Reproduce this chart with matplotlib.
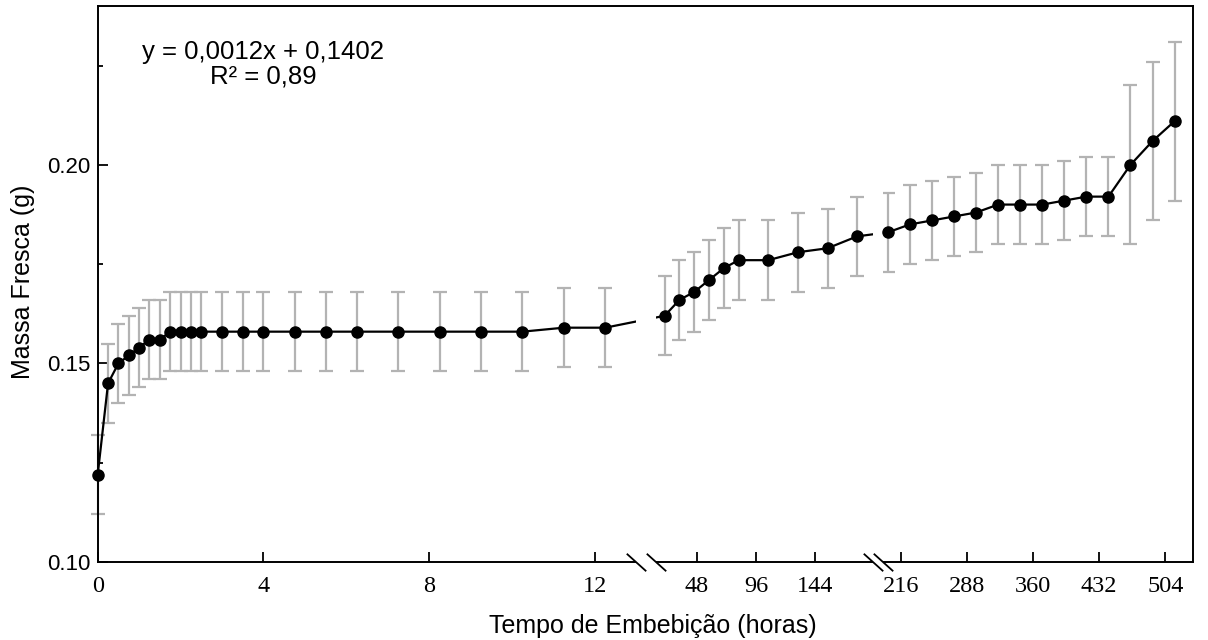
import numpy as np
import matplotlib
matplotlib.use("Agg")
import matplotlib.pyplot as plt
import matplotlib.transforms as mtransforms

# ---------------- data ----------------
hours = [0, 0.25, 0.5, 0.75, 1, 1.25, 1.5, 1.75, 2, 2.25, 2.5, 3, 3.5, 4,
         4.75, 5.5, 6.25, 7.25, 8.25, 9.25, 10.25, 11.25, 12.25,
         22, 34, 46, 58, 70, 82, 106, 130, 154, 178,
         202, 226, 250, 274, 298, 322, 346, 370, 394, 418, 442, 466, 490, 514]
massa = [0.122, 0.145, 0.150, 0.152, 0.154, 0.156, 0.156, 0.158, 0.158, 0.158,
         0.158, 0.158, 0.158, 0.158, 0.158, 0.158, 0.158, 0.158, 0.158, 0.158,
         0.158, 0.159, 0.159,
         0.162, 0.166, 0.168, 0.171, 0.174, 0.176, 0.176, 0.178, 0.179, 0.182,
         0.183, 0.185, 0.186, 0.187, 0.188, 0.190, 0.190, 0.190, 0.191, 0.192,
         0.192, 0.200, 0.206, 0.211]
erro = [0.01] * 44 + [0.02, 0.02, 0.02]

x_ticks = [0, 4, 8, 12, 48, 96, 144, 216, 288, 360, 432, 504]
y_ticks = [0.10, 0.15, 0.20]
y_minor = [0.125, 0.175, 0.225]
breaks = [(13, 15), (191, 197)]
equation = "y = 0,0012x + 0,1402\nR² = 0,89"

# broken-axis scale knots (hours -> axis units)
H_KNOTS = [0, 13, 15, 191, 197, 534]
P_KNOTS = [97.7, 636.4, 656.0, 873.2, 883.2, 1193.0]


def fwd(h):
    return np.interp(h, H_KNOTS, P_KNOTS)


def inv(p):
    return np.interp(p, P_KNOTS, H_KNOTS)


W, H = 1208, 640
fig = plt.figure(figsize=(W / 100, H / 100), dpi=100)
ax = fig.add_axes([97.7 / W, 1 - 562 / H, (1193 - 97.7) / W, (562 - 6) / H])
ax.set_xscale('function', functions=(fwd, inv))
ax.set_xlim(0, 534)
ax.set_ylim(0.10, 0.24)

# error bars
eb = ax.errorbar(hours, massa, yerr=erro, fmt='none', ecolor='#b3b3b3',
                 elinewidth=1.6, capsize=5, capthick=1.6, zorder=2)
for art in eb.lines[1] + eb.lines[2]:
    art.set_clip_on(False)
# line
ax.plot(hours, massa, color='black', lw=1.6, zorder=3, clip_on=False)

# white gaps at the axis breaks (hide line and bottom spine there)
for a, b in breaks:
    ax.axvspan(a, b, ymin=-0.01, ymax=0.985, color='white', lw=0,
               zorder=3.5, clip_on=False)

# markers
ax.plot(hours, massa, linestyle='none', marker='o', ms=8,
        color='black', zorder=4, clip_on=False)

# break marks on x axis
trans = mtransforms.blended_transform_factory(ax.transData, ax.transAxes)
slash = [(-1, 0.9), (1, -0.9)]
for a, b in breaks:
    ax.plot([a, b], [0, 0], transform=trans, linestyle='none', marker=slash,
            ms=14, mec='black', mew=1.3, clip_on=False, zorder=6)

# spines
for s in ax.spines.values():
    s.set_linewidth(1.4)
    s.set_zorder(2.5)

# ticks
ax.set_xticks(x_ticks)
ax.set_xticklabels([str(t) for t in x_ticks])
ax.xaxis.set_minor_locator(matplotlib.ticker.NullLocator())
ax.set_yticks(y_ticks)
ax.set_yticklabels([f"{v:.2f}" for v in y_ticks])
ax.set_yticks(y_minor, minor=True)
ax.tick_params(axis='x', which='major', direction='in', length=7, width=1.3,
               pad=10, labelsize=17.5, top=False)
ax.tick_params(axis='y', which='major', direction='in', length=7, width=1.3,
               pad=5.5, labelsize=16, right=False)
ax.tick_params(axis='y', which='minor', direction='in', length=3.6, width=1.3,
               right=False)
for lab in ax.get_xticklabels():
    lab.set_fontfamily('Liberation Serif')
for lab in ax.get_yticklabels():
    lab.set_fontfamily('Liberation Sans')

ax.set_xlabel("Tempo de Embebição (horas)", fontsize=18,
              fontfamily='Liberation Sans')
ax.xaxis.set_label_coords((653 - 97.7) / 1095.3, (562 - 626) / 556)
ax.xaxis.label.set_va('center')
ax.set_ylabel("Massa Fresca (g)", fontsize=18, fontfamily='Liberation Sans',
              va='center')
ax.yaxis.set_label_coords((23 - 97.7) / 1095.3, (562 - 282) / 556)

fig.text(263 / W, 1 - 64 / H, equation, ha='center', va='center',
         multialignment='center', fontsize=18.5, fontfamily='Liberation Sans',
         linespacing=1.05)

fig.savefig("out.png", dpi=100, facecolor='white')
